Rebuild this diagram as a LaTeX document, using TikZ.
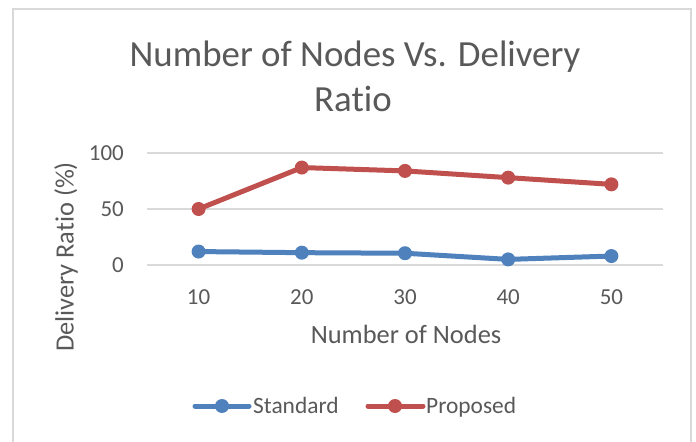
\documentclass[tikz,border=0pt]{standalone}
\usepackage{fontspec}
\setmainfont{Carlito}[RawFeature=-liga]
\definecolor{txt}{HTML}{595959}
\definecolor{gridc}{HTML}{D9D9D9}
\definecolor{stdc}{HTML}{4F81BD}
\definecolor{propc}{HTML}{C0504D}
\tikzset{
  lbl/.style={text=txt, inner sep=0pt},
  gridline/.style={draw=gridc, line width=1.5bp},
  series/.style={line width=5bp, line join=round, line cap=round},
  dot/.style={circle, fill=#1, minimum size=14bp, inner sep=0pt},
  tickfont/.style={font=\fontsize{23}{27}\selectfont},
  axisfont/.style={font=\fontsize{26.5}{30}\selectfont},
  legfont/.style={font=\fontsize{23.5}{27}\selectfont},
}
\begin{document}
\begin{tikzpicture}[x=1bp, y=-1bp]
\useasboundingbox (0,0) rectangle (696,442);
\fill[white] (0,0) rectangle (696,442);
% chart frame
\draw[draw=gridc, line width=1.5bp] (13,445) -- (13,9) -- (691,9) -- (691,445);

% title, two lines
\node[lbl, anchor=base, font=\fontsize{37}{45}\selectfont] (title1) at (355,67) {Number of Nodes Vs. Delivery};
\node[lbl, anchor=base, font=\fontsize{37}{45}\selectfont] (title2) at (353,112) {Ratio};

% horizontal gridlines: 0, 50, 100 (1.12 px per unit, zero at y=265)
\foreach \v in {0,50,100}{
  \draw[gridline] (147,{265-1.12*\v}) -- (663,{265-1.12*\v});
  \node[lbl, anchor=base east, tickfont] (yt\v) at (124,{272.5-1.12*\v}) {\v};
}

% category labels
\foreach \i/\c in {0/10,1/20,2/30,3/40,4/50}{
  \node[lbl, anchor=base, tickfont] (xt\c) at ({198.6+103.2*\i},304.5) {\c};
}

% axis titles
\node[lbl, anchor=base, axisfont] (xtitle) at (406,343.5) {Number of Nodes};
\node[lbl, anchor=base, axisfont, rotate=90] (ytitle) at (73.5,257) {Delivery Ratio (\%)};

% data point positions
\foreach \i/\s/\p in {0/12/50,1/11/87,2/10.5/84,3/5/78,4/8/72}{
  \coordinate (s\i) at ({198.6+103.2*\i},{265-1.12*\s});
  \coordinate (p\i) at ({198.6+103.2*\i},{265-1.12*\p});
}
% series lines
\draw[series, stdc] (s0) -- (s1) -- (s2) -- (s3) -- (s4);
\draw[series, propc] (p0) -- (p1) -- (p2) -- (p3) -- (p4);
% markers
\foreach \i in {0,...,4}{
  \node[dot=stdc] (ms\i) at (s\i) {};
  \node[dot=propc] (mp\i) at (p\i) {};
}

% legend
\coordinate (la1) at (195,406);
\coordinate (lb1) at (249,406);
\draw[series, stdc] (la1) -- (lb1);
\node[dot=stdc] (lm1) at (222,406) {};
\node[lbl, anchor=base west, legfont] (lt1) at (253,413.5) {Standard};
\coordinate (la2) at (368,406);
\coordinate (lb2) at (423,406);
\draw[series, propc] (la2) -- (lb2);
\node[dot=propc] (lm2) at (395,406) {};
\node[lbl, anchor=base west, legfont] (lt2) at (426,413.5) {Proposed};
\end{tikzpicture}
\end{document}
